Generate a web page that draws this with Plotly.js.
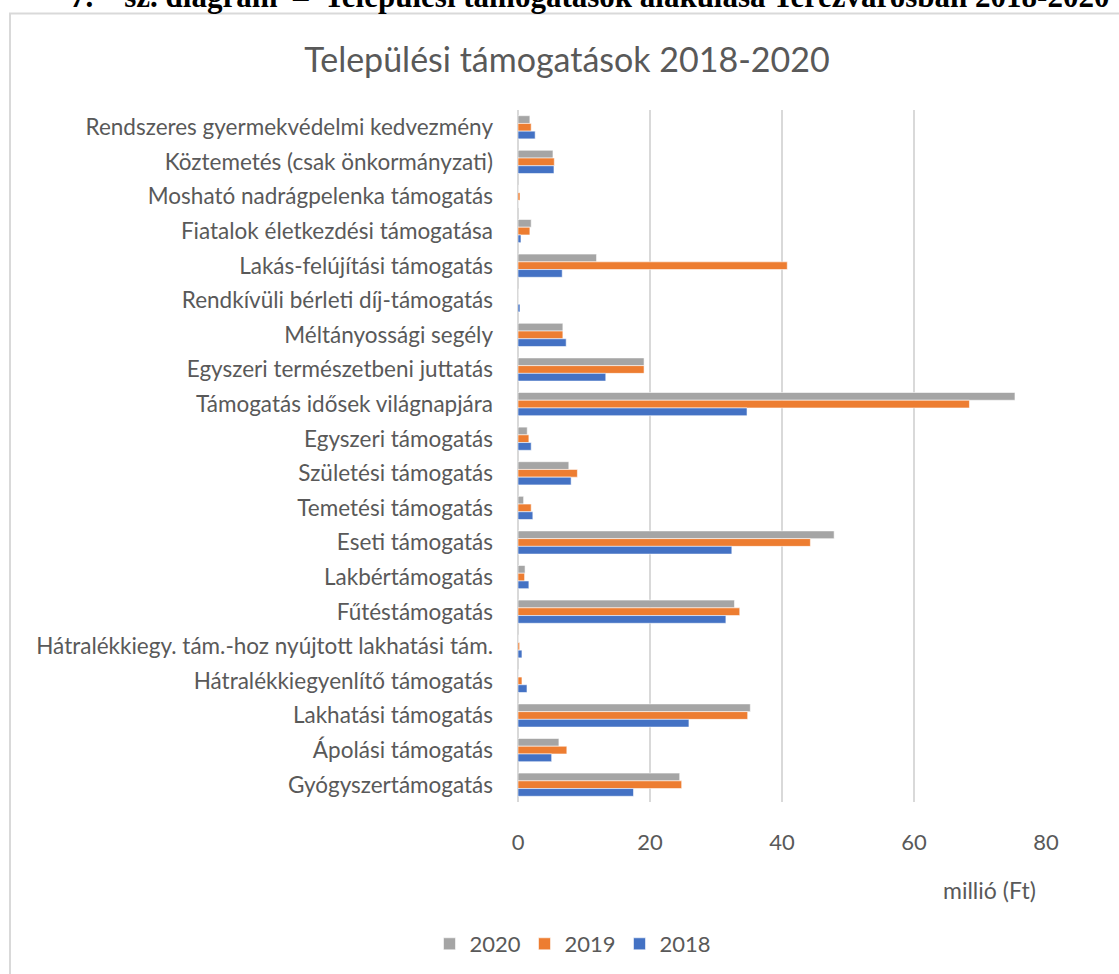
<!DOCTYPE html>
<html>
<head>
<meta charset="utf-8">
<script src="https://cdn.plot.ly/plotly-3.0.1.min.js"></script>
<style>html,body{margin:0;padding:0;background:#fff;}#chart{width:1119px;height:974px;}</style>
</head>
<body>
<div id="chart"></div>
<script>
const categories = [
  "Rendszeres gyermekvédelmi kedvezmény",
  "Köztemetés (csak önkormányzati)",
  "Mosható nadrágpelenka támogatás",
  "Fiatalok életkezdési támogatása",
  "Lakás-felújítási támogatás",
  "Rendkívüli bérleti díj-támogatás",
  "Méltányossági segély",
  "Egyszeri természetbeni juttatás",
  "Támogatás idősek világnapjára",
  "Egyszeri támogatás",
  "Születési támogatás",
  "Temetési támogatás",
  "Eseti támogatás",
  "Lakbértámogatás",
  "Fűtéstámogatás",
  "Hátralékkiegy. tám.-hoz nyújtott lakhatási tám.",
  "Hátralékkiegyenlítő támogatás",
  "Lakhatási támogatás",
  "Ápolási támogatás",
  "Gyógyszertámogatás"
];
const values2020 = [1.8, 5.3, 0, 2.0, 11.9, 0, 6.8, 19.1, 75.3, 1.4, 7.7, 0.85, 47.9, 1.07, 32.8, 0, 0, 35.2, 6.2, 24.5];
const values2019 = [2.0, 5.5, 0.3, 1.8, 40.8, 0, 6.8, 19.1, 68.4, 1.65, 9.0, 2.0, 44.3, 1.0, 33.6, 0.25, 0.6, 34.8, 7.4, 24.8];
const values2018 = [2.6, 5.45, 0, 0.45, 6.7, 0.3, 7.3, 13.3, 34.7, 2.0, 8.05, 2.25, 32.4, 1.65, 31.5, 0.6, 1.36, 25.9, 5.1, 17.5];
const seriesNames = ["2020", "2019", "2018"];
const xTickValues = [0, 20, 40, 60, 80];
const chartTitle = "Települési támogatások 2018-2020";
const headerText = "7.\u00a0\u00a0\u00a0\u00a0sz. diagram\u00a0\u00a0–\u00a0\u00a0Települési támogatások alakulása Terézvárosban 2018-2020";
const xAxisTitle = "millió (Ft)";

// plot-area pixel geometry -> paper coords helpers
const L = 518, R = 1046, T = 110, B = 802;
const px = x => (x - L) / (R - L);
const py = y => (B - y) / (B - T);

const colors = ["#a5a5a5", "#ed7d31", "#4472c4"];
const seriesValues = [values2020, values2019, values2018];
const FONT = "Lato, 'Open Sans', sans-serif";
const TXT = "#595959";

const traces = seriesNames.map((n, i) => ({
  type: "bar",
  orientation: "h",
  name: n,
  y: categories,
  x: seriesValues[i],
  marker: {color: colors[i], line: {color: "rgba(255,255,255,0.7)", width: 0.8}},
  hoverinfo: "skip"
}));

const layout = {
  width: 1119,
  height: 974,
  paper_bgcolor: "#ffffff",
  plot_bgcolor: "#ffffff",
  margin: {l: L, r: 1119 - R, t: T, b: 974 - B, pad: 0},
  barmode: "group",
  bargap: 0.33,
  bargroupgap: 0,
  font: {family: FONT, color: TXT, size: 22},
  title: {
    text: chartTitle,
    font: {family: FONT, size: 34, color: TXT},
    xref: "container", x: 567 / 1119, xanchor: "center",
    yref: "container", y: 1 - 60 / 974, yanchor: "middle"
  },
  xaxis: {
    range: [0, 80],
    tickvals: xTickValues,
    ticktext: xTickValues.map(String),
    showgrid: true,
    gridcolor: "#d9d9d9",
    gridwidth: 2,
    zeroline: true,
    zerolinecolor: "#d9d9d9",
    zerolinewidth: 2,
    showline: false,
    ticks: "",
    ticklabelstandoff: 25,
    tickfont: {family: FONT, size: 22, color: TXT},
    fixedrange: true
  },
  yaxis: {
    type: "category",
    autorange: "reversed",
    showgrid: false,
    zeroline: false,
    showline: false,
    ticks: "",
    ticklabelstandoff: 24,
    tickfont: {family: FONT, size: 22.5, color: TXT},
    fixedrange: true
  },
  legend: {
    orientation: "h",
    xref: "container", x: 572 / 1119, xanchor: "center",
    yref: "container", y: 1 - 944 / 974, yanchor: "middle",
    font: {family: FONT, size: 22, color: TXT},
    itemwidth: 30,
    entrywidth: 50,
    traceorder: "normal"
  },
  annotations: [
    {
      text: xAxisTitle,
      xref: "paper", yref: "paper",
      x: px(1038), xanchor: "right",
      y: py(890), yanchor: "middle",
      showarrow: false,
      font: {family: FONT, size: 23, color: TXT}
    },
    {
      text: "<b>" + headerText + "</b>",
      xref: "paper", yref: "paper",
      x: px(68), xanchor: "left",
      y: py(16), yanchor: "bottom",
      showarrow: false,
      font: {family: "'Liberation Serif', 'DejaVu Serif', serif", size: 31, color: "#000000"}
    }
  ],
  shapes: [
    {
      type: "rect", xref: "paper", yref: "paper",
      x0: px(10), x1: px(1140), y0: py(990), y1: py(13.5),
      line: {color: "#d9d9d9", width: 2},
      fillcolor: "rgba(0,0,0,0)",
      layer: "below"
    }
  ]
};

Plotly.newPlot("chart", traces, layout, {displayModeBar: false, staticPlot: true});
</script>
</body>
</html>
